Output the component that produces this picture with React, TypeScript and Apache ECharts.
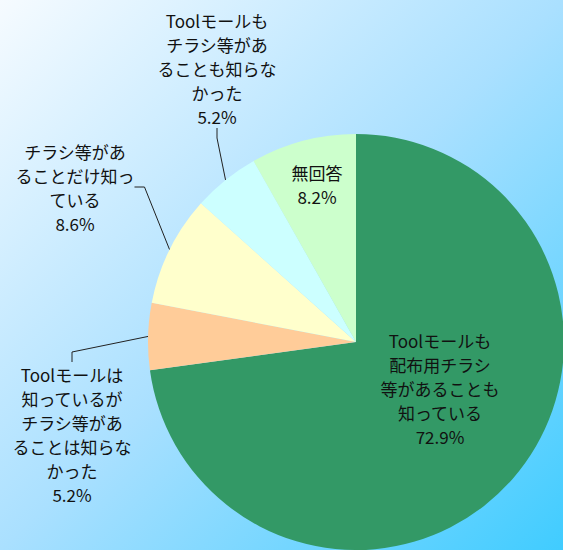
import React, { useEffect, useRef } from "react";
import * as echarts from "echarts";

const categoryLines: string[][] = [
  ["Toolモールも", "配布用チラシ", "等があることも", "知っている"],
  ["Toolモールは", "知っているが", "チラシ等があ", "ることは知らな", "かった"],
  ["チラシ等があ", "ることだけ知っ", "ている"],
  ["Toolモールも", "チラシ等があ", "ることも知らな", "かった"],
  ["無回答"],
];
const values: number[] = [72.9, 5.2, 8.6, 5.2, 8.2];
const sliceColors: string[] = ["#339966", "#FFCC99", "#FFFFCC", "#CCFFFF", "#CCFFCC"];
const insideLabel: boolean[] = [true, false, false, false, true];
const labelCenters: number[][] = [
  [440, 388],
  [72, 434],
  [75, 187],
  [217, 68],
  [317, 184],
];

export default function App() {
  const ref = useRef<HTMLDivElement>(null);
  useEffect(() => {
    document.body.style.margin = "0";
    const chart = echarts.init(ref.current!, undefined, { renderer: "svg" });
    chart.setOption({
      animation: false,
      backgroundColor: {
        type: "linear",
        x: 0,
        y: 0,
        x2: 1,
        y2: 1,
        colorStops: [
          { offset: 0, color: "#f6fbff" },
          { offset: 0.5, color: "#aae0ff" },
          { offset: 1, color: "#40ccff" },
        ],
      },
      series: [
        {
          type: "pie",
          center: [356, 342],
          radius: [0, 208],
          startAngle: 90,
          clockwise: true,
          avoidLabelOverlap: false,
          itemStyle: { borderWidth: 0 },
          label: {
            fontFamily: "'Noto Sans CJK JP', sans-serif",
            fontSize: 17,
            lineHeight: 24,
            color: "#111",
            align: "center",
            formatter: (p: any) =>
              categoryLines[p.dataIndex].join("\n") + "\n" + values[p.dataIndex].toFixed(1) + "%",
          },
          labelLine: { lineStyle: { color: "#222", width: 1 } },
          labelLayout: (p: any) => {
            const c = labelCenters[p.dataIndex];
            return { x: c[0], y: c[1], align: "center", verticalAlign: "middle" };
          },
          data: values.map((v, i) => ({
            value: v,
            name: categoryLines[i].join(""),
            itemStyle: { color: sliceColors[i] },
            label: { position: insideLabel[i] ? "inside" : "outside" },
            labelLine: { show: !insideLabel[i], length: 10, length2: 10 },
          })),
        },
      ],
    });
    return () => chart.dispose();
  }, []);
  return <div ref={ref} style={{ width: 563, height: 550 }} />;
}
